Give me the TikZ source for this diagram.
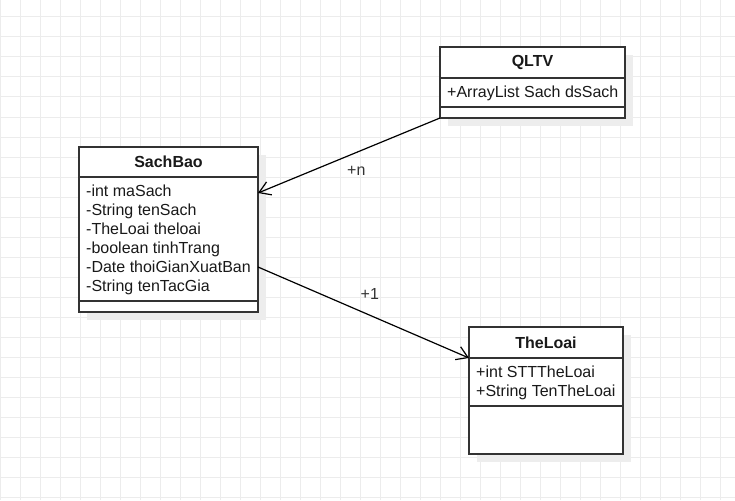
\documentclass[tikz,border=0pt]{standalone}
\usepackage{fontspec}
\setmainfont{Liberation Sans}
\usepackage{xcolor}
\usetikzlibrary{positioning,arrows.meta,shadows}
\definecolor{gridgray}{HTML}{ECECEC}
\definecolor{boxline}{HTML}{333333}

\begin{document}
\begin{tikzpicture}[x=1pt, y=-1pt,
  every node/.style={font=\fontsize{16}{19}\selectfont, text=black!90},
  boxshadow/.style={drop shadow={shadow xshift=8pt, shadow yshift=-8pt, fill=black!7, opacity=1}},
  classhead/.style={draw=boxline, line width=1.5pt, fill=white, outer sep=0pt, inner sep=0pt,
    minimum width=#1, minimum height=31pt, font=\fontsize{16}{19}\selectfont\bfseries, boxshadow},
  classpart/.style={draw=boxline, line width=1.5pt, fill=white, outer sep=0pt, inner sep=0pt,
    minimum width=#1, anchor=north, boxshadow},
  members/.style={inner sep=0pt, align=left, anchor=north west},
  assoc/.style={line width=1.2pt, -{Straight Barb[length=11pt, width=14pt]}},
  mult/.style={text=boxline}]

	\fill[white] (0,0) rectangle (735,500);
	\useasboundingbox (0,0) rectangle (735,500);
	% grid
	\foreach \gx in {0,20,...,740} \draw[gridgray, line width=1pt] (\gx,0) -- (\gx,500);
	\foreach \gy in {17,37,...,500} \draw[gridgray, line width=1pt] (0,\gy) -- (735,\gy);

	% QLTV
	\node[classhead=185pt, anchor=north west] (qlhead) at (440,47) {QLTV};
	\node[classpart=185pt, minimum height=29pt, below=0pt of qlhead] (qlattr) {};
	\node[classpart=185pt, minimum height=11pt, below=0pt of qlattr] (qlops) {};
	\node[members] (qltext) at ([xshift=7pt, yshift=-7.5pt]qlattr.north west) {+ArrayList Sach dsSach};

	% SachBao
	\node[classhead=179pt, minimum height=30pt, anchor=north west] (sbhead) at (79,147) {SachBao};
	\node[classpart=179pt, minimum height=124pt, below=0pt of sbhead] (sbattr) {};
	\node[classpart=179pt, minimum height=11pt, below=0pt of sbattr] (sbops) {};
	\node[members] (sbtext) at ([xshift=7pt, yshift=-7.5pt]sbattr.north west) {-int maSach\\-String tenSach\\-TheLoai theloai\\-boolean tinhTrang\\-Date thoiGianXuatBan\\-String tenTacGia};

	% TheLoai
	\node[classhead=154pt, anchor=north west] (tlhead) at (469,327) {TheLoai};
	\node[classpart=154pt, minimum height=48pt, below=0pt of tlhead] (tlattr) {};
	\node[classpart=154pt, minimum height=48pt, below=0pt of tlattr] (tlops) {};
	\node[members] (tltext) at ([xshift=7pt, yshift=-7.5pt]tlattr.north west) {+int STTTheLoai\\+String TenTheLoai};

	\draw[assoc] (qlops.south west) -- ([yshift=46pt]sbattr.east) node[mult, pos=0.46, yshift=-18pt] (multn) {+n};
	\draw[assoc] ([yshift=-28pt]sbattr.east) -- (tlhead.south west) node[mult, pos=0.53, yshift=21pt] (mult1) {+1};
\end{tikzpicture}
\end{document}
